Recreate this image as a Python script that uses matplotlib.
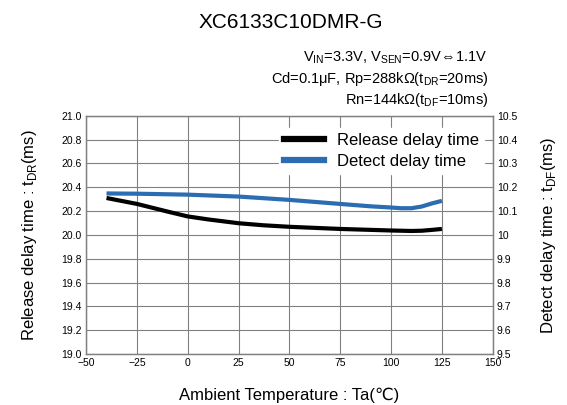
import matplotlib
matplotlib.use("Agg")
import matplotlib.pyplot as plt
from matplotlib.lines import Line2D

plt.rcParams['font.family'] = ['Liberation Sans', 'DejaVu Sans']
plt.rcParams['mathtext.fontset'] = 'custom'
plt.rcParams['mathtext.rm'] = 'Liberation Sans'

temp_release = [-40, -25, -10, 0, 10, 25, 37, 50, 75, 100, 110, 115, 120, 125]
release_ms = [20.31, 20.26, 20.196, 20.155, 20.13, 20.098, 20.081, 20.068, 20.05, 20.037, 20.033, 20.035, 20.042, 20.05]
temp_detect = [-40, -25, 0, 25, 50, 75, 90, 100, 105, 110, 115, 120, 125]
detect_ms = [10.174, 10.173, 10.169, 10.161, 10.147, 10.13, 10.12, 10.115, 10.112, 10.112, 10.119, 10.132, 10.143]

xticks = [-50, -25, 0, 25, 50, 75, 100, 125, 150]
left_ticks = [19.0, 19.2, 19.4, 19.6, 19.8, 20.0, 20.2, 20.4, 20.6, 20.8, 21.0]
right_ticks = [9.5, 9.6, 9.7, 9.8, 9.9, 10.0, 10.1, 10.2, 10.3, 10.4, 10.5]
right_labels = ["9.5", "9.6", "9.7", "9.8", "9.9", "10", "10.1", "10.2", "10.3", "10.4", "10.5"]

fig = plt.figure(figsize=(5.67, 4.05), dpi=100)
ax = fig.add_axes([0.152, 0.126, 0.717, 0.588])
ax2 = ax.twinx()

grid_c = "#808080"
ax.set_xlim(-50, 150); ax.set_ylim(19.0, 21.0)
ax2.set_ylim(9.5, 10.5)
ax.set_xticks(xticks); ax.set_xticklabels([str(t).replace("-", "\u2212") for t in xticks], fontsize=7.5)
ax.set_yticks(left_ticks); ax.set_yticklabels([f"{v:.1f}" for v in left_ticks], fontsize=7.5)
ax2.set_yticks(right_ticks); ax2.set_yticklabels(right_labels, fontsize=7.5)
ax.grid(True, color=grid_c, lw=0.8)
for a in (ax, ax2):
    a.tick_params(length=0, pad=3)
    for s in a.spines.values():
        s.set_color(grid_c); s.set_linewidth(0.9)

ax.plot(temp_release, release_ms, color="black", lw=3, solid_capstyle="butt", solid_joinstyle="round", zorder=3)
ax2.plot(temp_detect, detect_ms, color="#2b6cb3", lw=3, solid_capstyle="butt", solid_joinstyle="round", zorder=3)

handles = [Line2D([], [], color="black", lw=4.5), Line2D([], [], color="#2b6cb3", lw=4.5)]
leg = ax2.legend(handles, ["Release delay time", "Detect delay time"], loc="upper right",
                 bbox_to_anchor=(1.0, 0.985), fontsize=12, frameon=True, framealpha=1,
                 edgecolor="white", fancybox=False, handlelength=2.4, handletextpad=0.8,
                 labelspacing=0.35, borderpad=0.3)

ax.set_xlabel("Ambient Temperature : Ta(\u2103)", fontsize=12, labelpad=14)
ax.set_ylabel(r"Release delay time : t$_{\mathrm{DR}}$(ms)", fontsize=12, labelpad=16)
ax2.set_ylabel(r"Detect delay time : t$_{\mathrm{DF}}$(ms)", fontsize=12, labelpad=16, rotation=90)

fig.text(0.512, 0.945, "XC6133C10DMR-G", ha="center", va="center", fontsize=15)
fig.text(0.859, 0.858, "V$_{\\mathrm{IN}}$=3.3V, V$_{\\mathrm{SEN}}$=0.9V\u21d41.1V",
         ha="right", va="center", fontsize=10.5)
fig.text(0.861, 0.806, "Cd=0.1\u03bcF, Rp=288k\u03a9(t$_{\\mathrm{DR}}$=20ms)", ha="right", va="center", fontsize=10.5)
fig.text(0.861, 0.752, "Rn=144k\u03a9(t$_{\\mathrm{DF}}$=10ms)", ha="right", va="center", fontsize=10.5)

fig.savefig("out.png", dpi=100)
